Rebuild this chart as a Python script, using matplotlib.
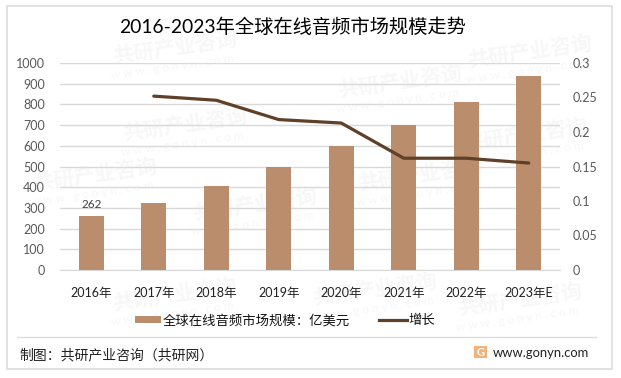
import matplotlib
matplotlib.use('Agg')
import matplotlib.pyplot as plt
from matplotlib.lines import Line2D
from matplotlib.patches import Rectangle

plt.rcParams['font.family'] = ['Lato', 'Noto Sans CJK SC', 'DejaVu Sans']

years = ['2016年', '2017年', '2018年', '2019年', '2020年', '2021年', '2022年', '2023年E']
market = [262, 325, 408, 497, 600, 700, 812, 937]
growth = [None, 0.252, 0.246, 0.218, 0.213, 0.162, 0.162, 0.155]
left_ticks = [0, 100, 200, 300, 400, 500, 600, 700, 800, 900, 1000]
right_ticks = [0, 0.05, 0.1, 0.15, 0.2, 0.25, 0.3]
right_labels = ['0', '0.05', '0.1', '0.15', '0.2', '0.25', '0.3']

W, H = 621, 378
bar_color = '#BA8E6D'
line_color = '#5F4029'
grid_color = '#D9D9D9'
frame_color = '#DDDDDD'

fig = plt.figure(figsize=(W / 100, H / 100), dpi=100, facecolor='white')


def fx(px):
    return px / W


def fy(py):
    return 1 - py / H


# outer frame and footer rule
fig.add_artist(Rectangle((fx(7), fy(369)), (612 - 7) / W, (369 - 6) / H, transform=fig.transFigure,
                         fill=False, edgecolor=frame_color, linewidth=1.2))
fig.add_artist(Line2D([fx(17), fx(596)], [fy(337), fy(337)], color=frame_color, linewidth=1))

# watermarks, kept under the axes
marks = [(175, 48), (530, 52), (185, 125), (400, 82), (525, 135), (95, 175),
         (255, 205), (420, 175), (175, 295), (375, 290), (520, 300)]
for mx, my in marks:
    fig.text(fx(mx), fy(my), '共研产业咨询', fontsize=15, fontweight='bold', color='#F7F7F7',
             rotation=8, ha='center', va='center', zorder=-5)
    fig.text(fx(mx - 3), fy(my + 19), 'w w w . g o n y n . c o m', fontsize=8.5, color='#F7F7F7',
             rotation=8, ha='center', va='center', zorder=-5)

ax = fig.add_axes([fx(60), fy(270), 500 / W, 207 / H], zorder=2)
ax.patch.set_alpha(0)
x = list(range(len(years)))
ax.bar(x, market, width=0.4, color=bar_color, zorder=3)
ax.set_xlim(-0.5, 7.5)
ax.set_ylim(0, 1000)
ax.set_yticks(left_ticks)
ax.set_xticks(x)
ax.set_xticklabels(years, color='#222222', fontsize=9)
ax.tick_params(axis='both', length=0)
ax.tick_params(axis='x', pad=12)
ax.tick_params(axis='y', pad=11, labelsize=9, labelcolor='#595959')
ax.grid(axis='y', color=grid_color, linewidth=1, zorder=0)
for s in ['top', 'left', 'right']:
    ax.spines[s].set_visible(False)
ax.spines['bottom'].set_color(grid_color)
ax.text(0, market[0] + 30, str(market[0]), ha='center', va='bottom', fontsize=8.5, color='#404040')

ax2 = ax.twinx()
ax2.set_zorder(3)
ax2.plot(x[1:], growth[1:], color=line_color, linewidth=2.3, solid_capstyle='round', zorder=5)
ax2.set_ylim(0, 0.3)
ax2.set_yticks(right_ticks)
ax2.set_yticklabels(right_labels, fontsize=9, color='#595959')
ax2.tick_params(axis='y', length=0, pad=9)
for s in ax2.spines.values():
    s.set_visible(False)

fig.text(fx(292), fy(27), '2016-2023年全球在线音频市场规模走势', fontsize=13.9, color='#000000',
         ha='center', va='center')

# legend
fig.add_artist(Rectangle((fx(135), fy(323)), 26 / W, 7 / H, transform=fig.transFigure,
                         facecolor=bar_color, edgecolor='none'))
fig.text(fx(163), fy(320), '全球在线音频市场规模：亿美元', fontsize=9.6, color='#111111', va='center')
fig.add_artist(Line2D([fx(379), fx(407)], [fy(320), fy(320)], color=line_color, linewidth=2.3))
fig.text(fx(408), fy(320), '增长', fontsize=9.6, color='#111111', va='center')

# footer
fig.text(fx(19), fy(355), '制图：共研产业咨询（共研网）', fontsize=10, color='#222222', va='center')
fig.add_artist(Rectangle((fx(474), fy(358)), 13 / W, 12 / H, transform=fig.transFigure,
                         facecolor='#F3B27A', edgecolor='none'))
fig.text(fx(480.5), fy(352), 'G', fontsize=8, fontweight='bold', color='white', ha='center', va='center')
fig.text(fx(493), fy(353), 'www.gonyn.com', fontsize=9.4, color='#222222', va='center')

fig.savefig('out.png', dpi=100)
